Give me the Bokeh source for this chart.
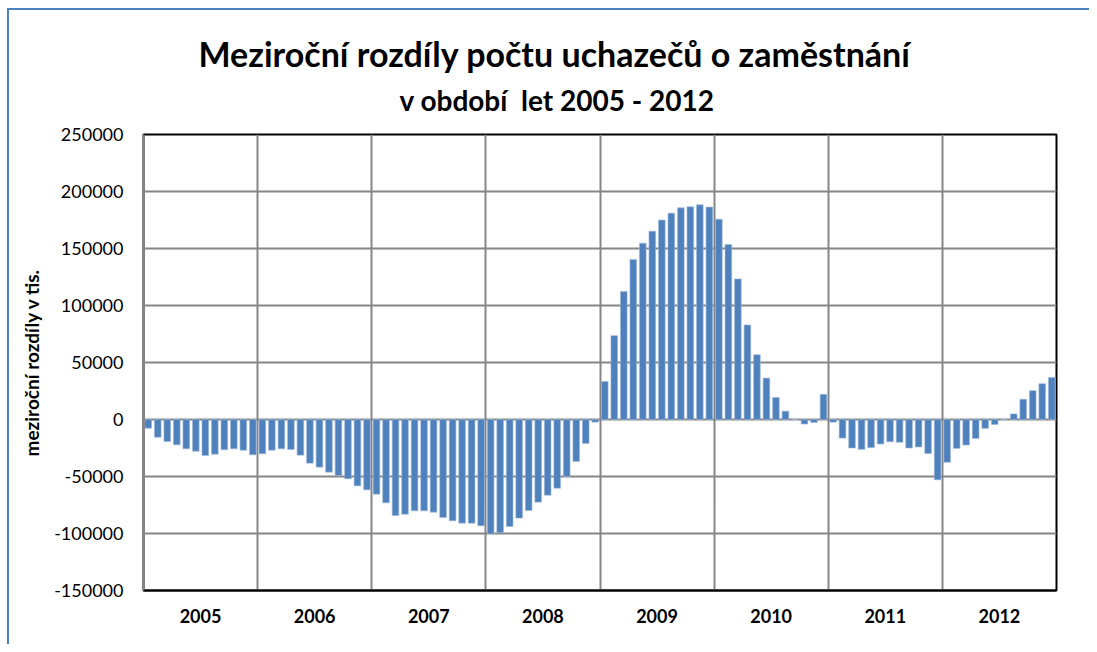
from bokeh.plotting import figure
from bokeh.models import FixedTicker, Title, ColumnDataSource
from bokeh.embed import file_html
from bokeh.resources import INLINE

years = ["2005", "2006", "2007", "2008", "2009", "2010", "2011", "2012"]
v2005 = [-7600, -15500, -19300, -22200, -25700, -27800, -31600, -30400, -26600, -25700, -26900, -31000]
v2006 = [-30100, -26900, -25700, -26300, -31300, -38300, -41800, -46200, -49100, -52000, -58200, -61700]
v2007 = [-65500, -73100, -84200, -83100, -80100, -80100, -81300, -86000, -88900, -90900, -90900, -93300]
v2008 = [-100300, -99400, -93900, -86500, -79800, -72500, -66400, -60300, -50000, -36800, -21000, -2300]
v2009 = [33400, 73500, 112200, 140300, 154700, 165200, 174900, 181000, 185700, 186600, 188300, 186300]
v2010 = [175700, 153500, 123300, 82900, 56800, 36300, 19300, 7300, 0, -4000, -2600, 22100]
v2011 = [-2300, -16300, -25000, -26200, -24700, -21500, -19500, -20000, -25000, -24100, -29900, -52900]
v2012 = [-37500, -25300, -22400, -16600, -7800, -4400, 0, 4900, 17700, 25300, 31400, 36800]
y_ticks = [-150000, -100000, -50000, 0, 50000, 100000, 150000, 200000, 250000]

values = v2005 + v2006 + v2007 + v2008 + v2009 + v2010 + v2011 + v2012
xs = [i + 0.5 for i in range(len(values))]
src = ColumnDataSource(dict(x=xs, top=values))

FONT = "Lato"
W, H = 1082, 636
p = figure(width=W, height=H, output_backend="svg", toolbar_location=None,
           x_range=(0, 96), y_range=(-150000, 250000),
           min_border_left=134, min_border_right=W - 1047, min_border_top=124, min_border_bottom=H - 580,
           styles={"border-left": "2px solid #4F81BD", "border-top": "2px solid #4F81BD",
                   "margin-left": "7px", "margin-top": "8px"})

p.vbar(x="x", top="top", bottom=0, width=0.7, source=src,
       fill_color="#4F81BD", line_color="#9DB9DC", line_width=0.6)

p.title.text = "Meziroční rozdíly počtu uchazečů o zaměstnání"
p.title.text_font = FONT
p.title.text_font_size = "34px"
p.title.text_font_style = "bold"
p.title.align = "left"
p.title.offset = 55
p.title.text_color = "#000000"
p.title.standoff = -20

sub = Title(text="v období\u00a0 let 2005 - 2012", align="left", offset=256, text_font=FONT,
            text_font_size="28px", text_font_style="bold", text_color="#000000",
            standoff=35)
p.add_layout(sub, "above")

# y axis
p.yaxis.ticker = FixedTicker(ticks=y_ticks)
p.yaxis.major_label_overrides = {t: str(t) for t in y_ticks}
p.yaxis.major_label_text_font = FONT
p.yaxis.major_label_text_font_size = "18px"
p.yaxis.major_label_text_color = "#000000"
p.yaxis.major_tick_line_color = None
p.yaxis.minor_tick_line_color = None
p.yaxis.axis_line_color = "#868686"
p.yaxis.axis_line_width = 2
p.yaxis.major_label_standoff = 14
p.yaxis.axis_label = "meziroční rozdíly v tis."
p.yaxis.axis_label_text_font = FONT
p.yaxis.axis_label_text_font_size = "19px"
p.yaxis.axis_label_text_font_style = "bold"
p.yaxis.axis_label_text_color = "#000000"
p.yaxis.axis_label_standoff = 8

# x axis with year labels in the middle of each year
p.xaxis.ticker = FixedTicker(ticks=[6 + 12 * i for i in range(len(years))])
p.xaxis.major_label_overrides = {6 + 12 * i: y for i, y in enumerate(years)}
p.xaxis.major_label_text_font = FONT
p.xaxis.major_label_text_font_size = "18px"
p.xaxis.major_label_text_font_style = "bold"
p.xaxis.major_label_text_color = "#000000"
p.xaxis.major_tick_line_color = None
p.xaxis.minor_tick_line_color = None
p.xaxis.axis_line_color = "#000000"
p.xaxis.axis_line_width = 2
p.xaxis.major_label_standoff = 12

p.xgrid.ticker = FixedTicker(ticks=[12 * i for i in range(9)])
p.ygrid.ticker = FixedTicker(ticks=y_ticks)
p.xgrid.grid_line_color = "#868686"
p.ygrid.grid_line_color = "#868686"
p.xgrid.grid_line_width = 2
p.ygrid.grid_line_width = 2

p.outline_line_color = "#000000"
p.outline_line_width = 2
p.background_fill_color = "#FFFFFF"
p.border_fill_color = "#FFFFFF"

open("out.html", "w").write(file_html(p, INLINE))
